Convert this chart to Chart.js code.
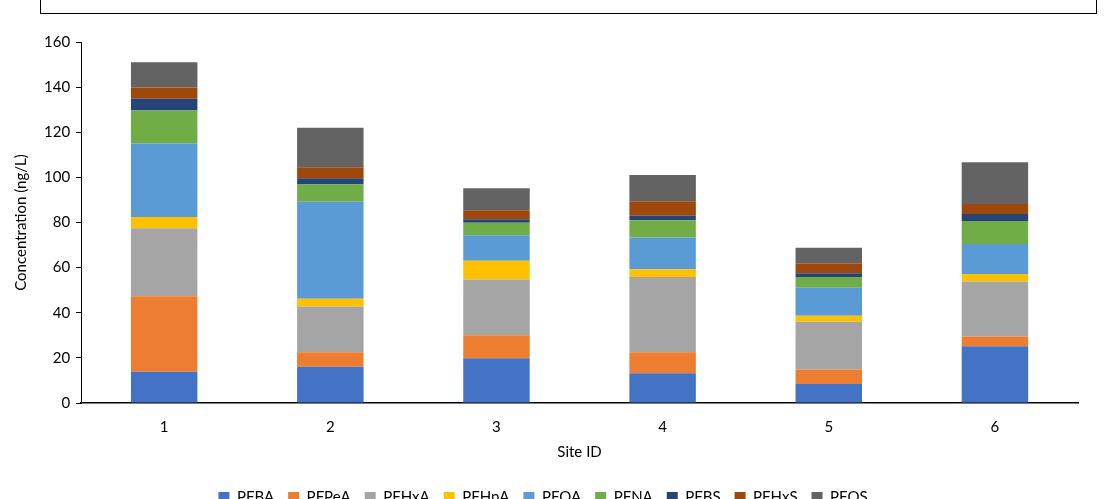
<!DOCTYPE html>
<html>
<head>
<meta charset="utf-8">
<script src="https://cdn.jsdelivr.net/npm/chart.js@4/dist/chart.umd.min.js"></script>
<style>
  html, body { margin: 0; padding: 0; background: #fff; overflow: hidden; }
  #wrap { position: relative; width: 1106px; height: 515px; }
  #titleBox { position: absolute; left: 40px; top: -4px; width: 1055px; height: 16px; border: 1.5px solid #000; }
</style>
</head>
<body>
<div id="wrap">
  <div id="titleBox"></div>
  <canvas id="grafico"></canvas>
</div>
<script>
const sites = ['1', '2', '3', '4', '5', '6'];

const pfba  = [13.9, 16.1, 19.8, 13.2, 8.4, 25.1];
const pfpea = [33.4, 6.4, 10.2, 9.3, 6.5, 4.4];
const pfhxa = [30.1, 20.3, 24.7, 33.4, 21.1, 24.3];
const pfhpa = [5.0, 3.4, 8.4, 3.4, 2.7, 3.4];
const pfoa  = [32.6, 43.0, 11.2, 14.1, 12.4, 13.3];
const pfna  = [14.6, 7.6, 5.6, 7.6, 4.7, 10.2];
const pfbs  = [5.3, 2.8, 1.5, 2.0, 1.7, 3.1];
const pfhxs = [4.9, 4.9, 4.0, 6.4, 4.2, 4.4];
const pfos  = [11.2, 17.5, 9.8, 11.6, 7.1, 18.5];

const yTicks = [0, 20, 40, 60, 80, 100, 120, 140, 160];

function serie(label, data, cor) {
    return {
        label: label,
        data: data,
        backgroundColor: cor,
        borderWidth: 0,
        categoryPercentage: 1.0,
        barPercentage: 0.4
    };
}

Chart.defaults.font.family = 'Lato, "Open Sans", sans-serif';
Chart.defaults.color = '#000';

new Chart(document.getElementById('grafico'), {
    type: 'bar',
    data: {
        labels: sites,
        datasets: [
            serie('PFBA', pfba, '#4472C4'),
            serie('PFPeA', pfpea, '#ED7D31'),
            serie('PFHxA', pfhxa, '#A5A5A5'),
            serie('PFHpA', pfhpa, '#FFC000'),
            serie('PFOA', pfoa, '#5B9BD5'),
            serie('PFNA', pfna, '#70AD47'),
            serie('PFBS', pfbs, '#264478'),
            serie('PFHxS', pfhxs, '#9E480E'),
            serie('PFOS', pfos, '#636363')
        ]
    },
    options: {
        responsive: true,
        maintainAspectRatio: false,
        animation: false,
        layout: { padding: { top: 42, left: 8, right: 28, bottom: 0 } },
        plugins: {
            legend: {
                position: 'bottom',
                labels: { boxWidth: 11, boxHeight: 11, padding: 14, font: { size: 15 } }
            },
            tooltip: { enabled: false }
        },
        scales: {
            x: {
                stacked: true,
                grid: { display: false },
                border: { color: '#000', width: 1.5 },
                ticks: { padding: 7, font: { size: 15 } },
                title: { display: true, text: 'Site ID', font: { size: 15 }, padding: { top: 0, bottom: 15 } }
            },
            y: {
                stacked: true,
                min: 0,
                max: 160,
                afterBuildTicks: function (axis) {
                    axis.ticks = yTicks.map(v => ({ value: v }));
                },
                grid: { drawOnChartArea: false, drawTicks: true, tickLength: 5, color: '#000' },
                border: { color: '#000', width: 1 },
                ticks: { padding: 6, font: { size: 15 } },
                title: { display: true, text: 'Concentration (ng/L)', font: { size: 15 }, padding: { bottom: 8 } }
            }
        }
    }
});
</script>
</body>
</html>
